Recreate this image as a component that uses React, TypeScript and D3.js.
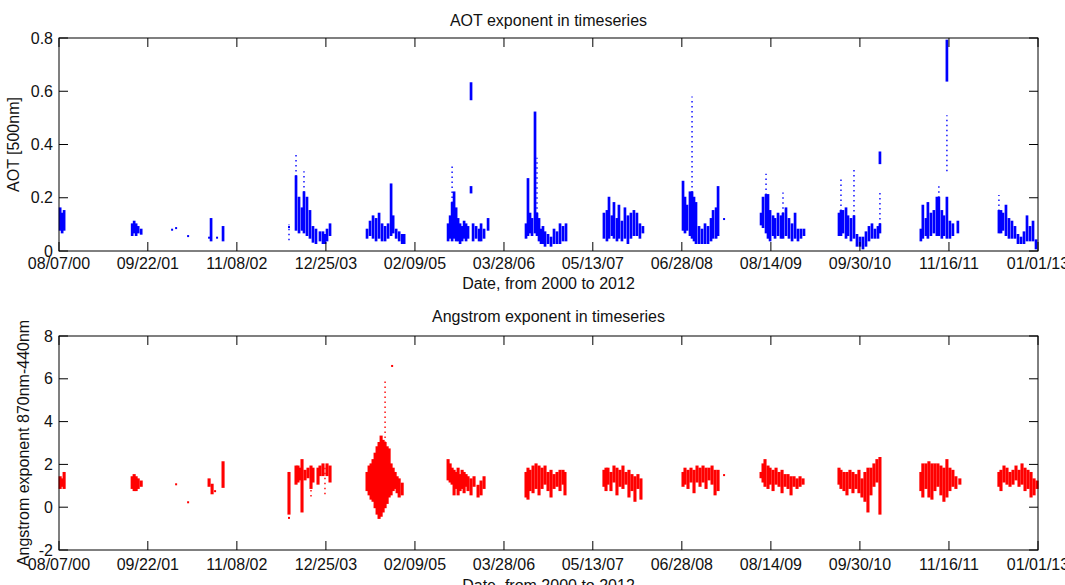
import React from "react";
import * as d3 from "d3";

// ---------- data (decimal year, low, high) ----------
const xTickLabels = ["08/07/00","09/22/01","11/08/02","12/25/03","02/09/05","03/28/06","05/13/07","06/28/08","08/14/09","09/30/10","11/16/11","01/01/13"];
const aotTicks = [0, 0.2, 0.4, 0.6, 0.8];
const angTicks = [-2, 0, 2, 4, 6, 8];

const aotSegments: [number, number, number][] = [
  [2000.613,0.08,0.16],[2000.638,0.07,0.14],[2000.663,0.08,0.15],
  [2001.525,0.06,0.10],[2001.55,0.07,0.11],[2001.575,0.06,0.10],[2001.601,0.07,0.09],[2001.639,0.065,0.08],
  [2002.525,0.04,0.12],[2002.677,0.04,0.09],
  [2003.602,0.08,0.28],[2003.64,0.07,0.20],[2003.678,0.08,0.16],[2003.703,0.07,0.22],[2003.741,0.06,0.20],[2003.779,0.05,0.15],[2003.817,0.035,0.09],[2003.855,0.03,0.08],[2003.906,0.04,0.07],[2003.944,0.03,0.07],[2003.969,0.03,0.06],[2003.995,0.04,0.08],[2004.033,0.06,0.10],
  [2004.501,0.05,0.08],[2004.539,0.06,0.11],[2004.577,0.05,0.13],[2004.615,0.04,0.12],[2004.653,0.05,0.14],[2004.691,0.04,0.10],[2004.729,0.04,0.09],[2004.767,0.05,0.10],[2004.805,0.06,0.25],[2004.831,0.07,0.13],[2004.869,0.05,0.08],[2004.907,0.04,0.07],[2004.945,0.03,0.06],[2004.97,0.03,0.06],
  [2005.527,0.04,0.10],[2005.553,0.05,0.13],[2005.578,0.04,0.18],[2005.603,0.05,0.22],[2005.629,0.04,0.16],[2005.654,0.04,0.12],[2005.679,0.03,0.10],[2005.705,0.04,0.09],[2005.73,0.05,0.11],[2005.755,0.04,0.10],[2005.78,0.05,0.09],[2005.818,0.57,0.63],[2005.818,0.22,0.24],[2005.844,0.04,0.10],[2005.882,0.05,0.09],[2005.92,0.04,0.08],[2005.945,0.04,0.10],[2005.983,0.05,0.08],[2006.034,0.08,0.12],
  [2006.515,0.05,0.10],[2006.54,0.06,0.27],[2006.566,0.07,0.14],[2006.591,0.06,0.12],[2006.629,0.07,0.52],[2006.654,0.06,0.14],[2006.68,0.04,0.12],[2006.705,0.03,0.08],[2006.73,0.03,0.09],[2006.756,0.02,0.07],[2006.794,0.03,0.06],[2006.832,0.02,0.05],[2006.87,0.03,0.08],[2006.908,0.03,0.07],[2006.946,0.03,0.10],[2006.984,0.04,0.09],[2007.022,0.04,0.10],
  [2007.503,0.05,0.14],[2007.541,0.04,0.15],[2007.567,0.05,0.20],[2007.604,0.06,0.13],[2007.63,0.05,0.18],[2007.668,0.04,0.12],[2007.693,0.05,0.17],[2007.731,0.04,0.11],[2007.769,0.05,0.16],[2007.807,0.03,0.13],[2007.845,0.05,0.14],[2007.883,0.06,0.15],[2007.921,0.06,0.14],[2007.959,0.05,0.10],[2007.997,0.07,0.09],
  [2008.504,0.08,0.26],[2008.529,0.07,0.20],[2008.554,0.08,0.17],[2008.592,0.06,0.22],[2008.618,0.05,0.22],[2008.643,0.04,0.20],[2008.668,0.03,0.18],[2008.706,0.03,0.09],[2008.744,0.03,0.08],[2008.782,0.03,0.10],[2008.82,0.03,0.09],[2008.858,0.04,0.12],[2008.884,0.05,0.15],[2008.922,0.05,0.16],[2008.947,0.06,0.24],
  [2009.492,0.10,0.14],[2009.517,0.09,0.20],[2009.555,0.07,0.21],[2009.58,0.05,0.21],[2009.606,0.04,0.15],[2009.644,0.06,0.13],[2009.669,0.05,0.12],[2009.707,0.06,0.14],[2009.745,0.05,0.13],[2009.77,0.05,0.14],[2009.808,0.06,0.16],[2009.846,0.05,0.12],[2009.885,0.04,0.10],[2009.923,0.05,0.14],[2009.96,0.04,0.08],[2009.998,0.05,0.08],[2010.036,0.06,0.08],
  [2010.48,0.06,0.14],[2010.505,0.06,0.15],[2010.53,0.07,0.15],[2010.569,0.05,0.16],[2010.594,0.06,0.13],[2010.632,0.04,0.12],[2010.67,0.05,0.13],[2010.708,0.02,0.06],[2010.746,0.02,0.05],[2010.784,0.01,0.05],[2010.822,0.02,0.07],[2010.86,0.04,0.09],[2010.898,0.05,0.10],[2010.936,0.05,0.08],[2010.974,0.05,0.09],[2010.999,0.07,0.10],[2010.999,0.33,0.37],
  [2011.518,0.04,0.08],[2011.543,0.05,0.17],[2011.582,0.06,0.12],[2011.607,0.05,0.18],[2011.645,0.06,0.14],[2011.683,0.07,0.15],[2011.721,0.06,0.20],[2011.746,0.06,0.20],[2011.784,0.05,0.15],[2011.81,0.06,0.13],[2011.848,0.05,0.20],[2011.848,0.64,0.79],[2011.886,0.05,0.11],[2011.924,0.06,0.10],[2011.987,0.07,0.11],
  [2012.506,0.07,0.15],[2012.532,0.07,0.15],[2012.557,0.08,0.14],[2012.595,0.06,0.17],[2012.633,0.05,0.12],[2012.671,0.05,0.11],[2012.709,0.05,0.09],[2012.747,0.03,0.06],[2012.785,0.03,0.05],[2012.823,0.03,0.07],[2012.861,0.04,0.13],[2012.899,0.04,0.09],[2012.937,0.04,0.11],[2012.975,0.01,0.04],
];
const aotSparse: [number, number, number][] = [
  [2003.513,0.04,0.10],[2003.602,0.28,0.37],[2003.703,0.22,0.30],[2005.578,0.18,0.32],[2006.654,0.14,0.35],
  [2008.618,0.22,0.58],[2009.555,0.21,0.29],[2009.77,0.14,0.22],[2010.505,0.15,0.27],[2010.67,0.13,0.31],
  [2010.999,0.10,0.22],[2011.848,0.30,0.51],[2011.746,0.20,0.25],[2012.506,0.15,0.21],
];
const aotDots: [number, number][] = [
  [2002.082,0.086],[2002.031,0.08],[2002.234,0.056],[2002.5,0.05],[2002.601,0.05],[2009.023,0.12],[2003.513,0.09],
];

const angSegments: [number, number, number][] = [
  [2000.613,0.9,1.4],[2000.638,1.0,1.3],[2000.663,0.9,1.6],
  [2001.525,0.9,1.4],[2001.55,0.8,1.5],[2001.575,0.8,1.4],[2001.601,0.9,1.3],[2001.639,1.0,1.2],
  [2002.5,1.0,1.3],[2002.538,0.65,1.05],[2002.677,0.95,2.1],
  [2003.513,-0.3,1.6],[2003.602,1.1,1.9],[2003.627,1.2,1.9],[2003.653,1.3,1.8],[2003.678,-0.2,2.2],[2003.716,1.3,1.7],[2003.754,1.4,1.8],[2003.792,0.9,1.9],[2003.817,1.2,1.8],[2003.881,1.1,1.8],[2003.906,1.5,1.9],[2003.944,1.5,2.0],[2003.995,1.5,2.0],[2004.033,1.2,1.9],
  [2004.501,0.8,1.6],[2004.527,0.6,1.9],[2004.552,0.4,2.0],[2004.577,0.3,2.2],[2004.603,0.0,2.5],[2004.628,-0.3,2.8],[2004.653,-0.5,3.0],[2004.679,-0.4,3.3],[2004.704,-0.2,3.1],[2004.729,0.0,3.0],[2004.755,0.2,2.8],[2004.78,0.5,2.7],[2004.805,0.6,2.0],[2004.831,0.8,1.8],[2004.856,0.9,1.6],[2004.881,0.7,1.4],[2004.907,0.5,1.3],[2004.945,0.6,1.1],
  [2005.527,1.3,2.2],[2005.553,1.2,2.0],[2005.578,1.1,1.8],[2005.603,0.6,1.7],[2005.629,0.9,1.6],[2005.654,0.6,1.8],[2005.679,0.8,1.5],[2005.705,0.9,1.7],[2005.73,0.7,1.6],[2005.755,1.0,1.5],[2005.78,0.8,1.4],[2005.818,0.6,1.3],[2005.856,1.0,1.4],[2005.907,0.5,1.0],[2005.945,0.6,1.2],[2005.983,0.9,1.4],
  [2006.515,0.5,1.6],[2006.54,0.4,1.8],[2006.566,0.8,1.7],[2006.604,0.7,1.9],[2006.642,0.9,2.0],[2006.68,0.6,1.9],[2006.718,0.9,1.8],[2006.756,1.1,1.9],[2006.794,0.8,1.6],[2006.832,0.5,1.7],[2006.87,0.9,1.5],[2006.908,1.0,1.6],[2006.946,0.8,1.7],[2006.984,1.1,1.7],[2007.009,0.6,1.6],
  [2007.503,1.0,1.7],[2007.529,0.8,1.8],[2007.554,1.1,1.8],[2007.592,0.8,1.6],[2007.63,1.2,1.9],[2007.668,0.6,1.8],[2007.706,1.0,1.7],[2007.744,0.9,1.9],[2007.782,1.1,1.6],[2007.82,0.5,1.7],[2007.858,0.8,1.5],[2007.896,0.3,1.4],[2007.934,0.9,1.5],[2007.972,0.4,1.3],
  [2008.504,1.0,1.6],[2008.529,1.1,1.8],[2008.567,0.9,1.7],[2008.605,1.2,1.8],[2008.643,0.7,1.7],[2008.681,1.2,1.9],[2008.719,1.0,1.8],[2008.757,1.2,1.9],[2008.795,0.9,1.8],[2008.833,1.3,1.8],[2008.871,1.1,1.9],[2008.909,0.6,1.7],[2008.947,0.8,1.7],
  [2009.492,1.4,1.6],[2009.517,1.2,2.0],[2009.542,1.0,2.2],[2009.58,0.9,1.9],[2009.606,1.1,1.8],[2009.644,0.8,1.7],[2009.682,1.1,1.8],[2009.72,1.0,1.6],[2009.758,0.7,1.7],[2009.796,1.0,1.5],[2009.834,0.9,1.5],[2009.872,0.6,1.4],[2009.91,1.0,1.4],[2009.948,0.9,1.3],[2009.986,1.0,1.4],[2010.024,1.1,1.3],
  [2010.48,1.1,1.8],[2010.505,0.9,1.7],[2010.543,0.8,1.6],[2010.581,0.6,1.6],[2010.619,0.9,1.7],[2010.657,0.7,1.6],[2010.695,0.9,1.5],[2010.733,0.7,1.7],[2010.771,0.5,1.3],[2010.809,0.3,1.6],[2010.847,-0.2,1.8],[2010.885,0.6,1.8],[2010.923,1.0,2.0],[2010.961,1.2,2.2],[2010.999,-0.3,2.3],
  [2011.518,0.8,1.6],[2011.543,0.5,2.0],[2011.582,0.9,2.0],[2011.62,0.5,2.1],[2011.658,0.4,2.0],[2011.696,0.8,2.0],[2011.734,1.0,2.0],[2011.772,0.6,1.9],[2011.81,0.3,1.8],[2011.848,0.5,2.2],[2011.886,0.8,1.8],[2011.924,1.0,1.7],[2011.962,0.9,1.4],[2012.012,1.1,1.3],
  [2012.506,1.0,1.6],[2012.532,0.8,1.7],[2012.57,1.2,1.9],[2012.608,1.1,1.8],[2012.646,1.0,1.6],[2012.684,1.1,1.7],[2012.722,1.3,1.9],[2012.76,1.0,1.7],[2012.798,1.1,2.0],[2012.836,0.8,1.8],[2012.874,0.9,1.7],[2012.912,0.5,1.6],[2012.95,0.6,1.3],[2012.988,0.9,1.2],
];
const angSparse: [number, number, number][] = [
  [2003.969,0.6,1.9],[2003.792,0.5,0.9],[2004.729,3.0,6.0],
];
const angDots: [number, number][] = [
  [2002.082,1.07],[2002.234,0.23],[2002.576,0.75],[2003.513,-0.5],[2004.818,6.6],[2009.023,1.5],
];

// ---------- helpers ----------
const yearToDate = (y: number) => {
  const Y = Math.floor(y);
  const s = Date.UTC(Y, 0, 1);
  const e = Date.UTC(Y + 1, 0, 1);
  return new Date(s + (y - Y) * (e - s));
};
const parseTick = d3.utcParse("%m/%d/%y");
const FONT = "'Liberation Sans', Arial, Helvetica, sans-serif";
const FS = 16;
const TICK = 9;

type PanelProps = {
  top: number; bottom: number; left: number; right: number;
  yDomain: [number, number]; yTicks: number[]; yFmt: (v: number) => string;
  segs: [number, number, number][]; sparse: [number, number, number][]; dots: [number, number][];
  color: string; segW: number;
  title: string; titleY: number; xLabelY: number; tickLabelY: number;
  yLabel: string; yLabelX: number;
};

function Panel(p: PanelProps) {
  const x = d3.scaleUtc()
    .domain([parseTick(xTickLabels[0])!, parseTick(xTickLabels[xTickLabels.length - 1])!])
    .range([p.left, p.right]);
  const y = d3.scaleLinear().domain(p.yDomain).range([p.bottom, p.top]);
  const cx = (p.left + p.right) / 2;
  const cy = (p.top + p.bottom) / 2;
  return (
    <g>
      {p.segs.map((s, i) => {
        const xx = x(yearToDate(s[0]));
        return <line key={"s" + i} x1={xx} x2={xx} y1={y(s[1]) + 1} y2={y(s[2]) - 1}
          stroke={p.color} strokeWidth={p.segW} />;
      })}
      {p.sparse.map((s, i) => {
        const xx = x(yearToDate(s[0]));
        return <line key={"p" + i} x1={xx} x2={xx} y1={y(s[1])} y2={y(s[2])}
          stroke={p.color} strokeWidth={1.4} strokeDasharray="1.5,3.5" />;
      })}
      {p.dots.map((d, i) => (
        <rect key={"d" + i} x={x(yearToDate(d[0])) - 1} y={y(d[1]) - 1} width={2} height={2} fill={p.color} />
      ))}
      {/* frame */}
      <rect x={p.left} y={p.top} width={p.right - p.left} height={p.bottom - p.top}
        fill="none" stroke="#000" strokeWidth={1} />
      {xTickLabels.map((t, i) => {
        const xx = x(parseTick(t)!);
        return (
          <g key={"xt" + i}>
            <line x1={xx} x2={xx} y1={p.bottom} y2={p.bottom - TICK} stroke="#000" />
            <line x1={xx} x2={xx} y1={p.top} y2={p.top + TICK} stroke="#000" />
            <text x={xx} y={p.tickLabelY} textAnchor="middle" fontSize={FS} fontFamily={FONT} fill="#111">{t}</text>
          </g>
        );
      })}
      {p.yTicks.map((v, i) => {
        const yy = y(v);
        return (
          <g key={"yt" + i}>
            <line x1={p.left} x2={p.left + TICK} y1={yy} y2={yy} stroke="#000" />
            <line x1={p.right} x2={p.right - TICK} y1={yy} y2={yy} stroke="#000" />
            <text x={p.left - 6} y={yy + 5.5} textAnchor="end" fontSize={FS} fontFamily={FONT} fill="#111">{p.yFmt(v)}</text>
          </g>
        );
      })}
      <text x={cx} y={p.titleY} textAnchor="middle" fontSize={FS} fontFamily={FONT} fill="#111">{p.title}</text>
      <text x={cx} y={p.xLabelY} textAnchor="middle" fontSize={FS} fontFamily={FONT} fill="#111">Date, from 2000 to 2012</text>
      <text transform={`translate(${p.yLabelX},${cy}) rotate(-90)`} textAnchor="middle" fontSize={FS} fontFamily={FONT} fill="#111">{p.yLabel}</text>
    </g>
  );
}

export default function App() {
  return (
    <svg width={1065} height={585} style={{ position: "absolute", left: 0, top: 0, background: "#fff" }}>
      <rect width={1065} height={585} fill="#fff" />
      <Panel top={38} bottom={251} left={59} right={1038}
        yDomain={[0, 0.8]} yTicks={aotTicks} yFmt={(v) => (v === 0 ? "0" : String(v))}
        segs={aotSegments} sparse={aotSparse} dots={aotDots} color="#0000ff" segW={2.7}
        title="AOT exponent in timeseries" titleY={26} xLabelY={289} tickLabelY={269}
        yLabel="AOT [500nm]" yLabelX={19} />
      <Panel top={336} bottom={550} left={59} right={1038}
        yDomain={[-2, 8]} yTicks={angTicks} yFmt={(v) => String(v)}
        segs={angSegments} sparse={angSparse} dots={angDots} color="#ff0000" segW={3.1}
        title="Angstrom exponent in timeseries" titleY={322} xLabelY={591} tickLabelY={570}
        yLabel="Angstrom exponent 870nm-440nm" yLabelX={29} />
    </svg>
  );
}
